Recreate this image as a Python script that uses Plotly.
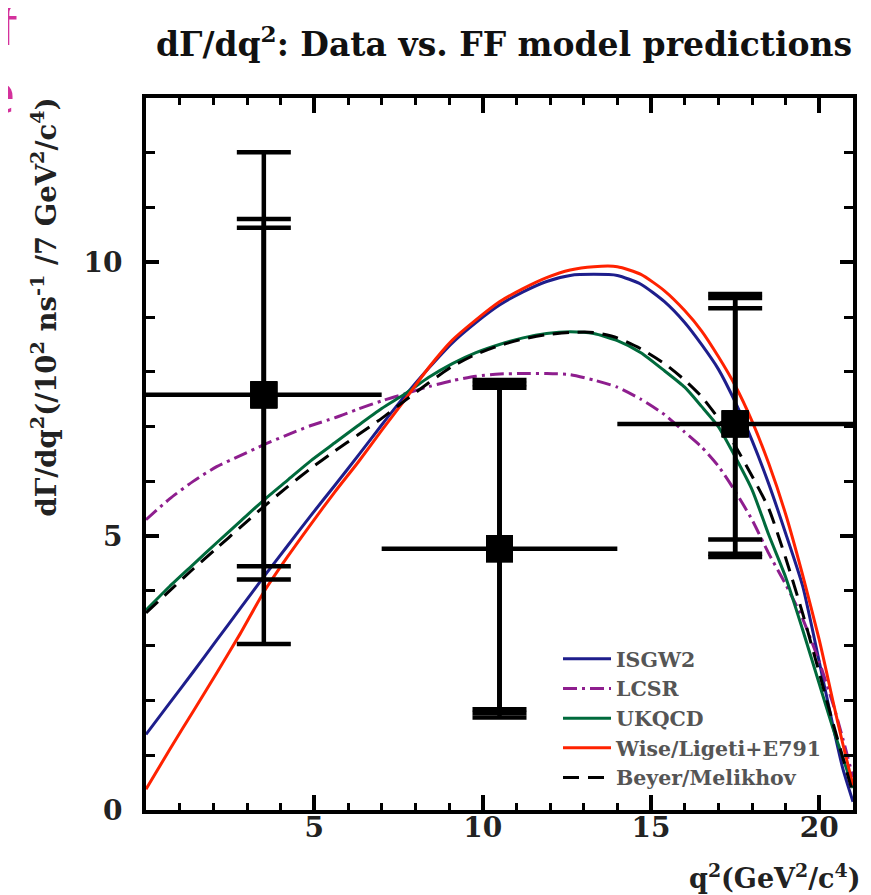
import plotly.graph_objects as go

# ---- model curves: dGamma/dq2 vs q2 ----
q2 = [0.0, 0.7, 1.4, 2.1, 2.8, 3.5, 4.2, 4.9, 5.6, 6.3, 7.0, 7.7, 8.4, 9.1, 9.8,
      10.5, 11.2, 11.9, 12.6, 13.3, 14.0, 14.7, 15.4, 16.0, 16.5, 17.0, 17.5,
      18.0, 18.5, 19.0, 19.5, 20.0, 20.4, 20.7, 21.0]
isgw2 = [1.38, 1.95, 2.52, 3.10, 3.68, 4.26, 4.82, 5.38, 5.92, 6.47, 7.03, 7.57, 8.07,
         8.53, 8.90, 9.22, 9.46, 9.65, 9.76, 9.78, 9.76, 9.60, 9.28, 8.90, 8.50,
         8.05, 7.45, 6.75, 5.95, 5.05, 4.10, 2.70, 1.55, 0.75, 0.15]
lcsr = [5.30, 5.68, 6.00, 6.27, 6.47, 6.67, 6.85, 7.02, 7.16, 7.32, 7.47, 7.60, 7.73,
        7.84, 7.92, 7.96, 7.97, 7.97, 7.95, 7.85, 7.72, 7.50, 7.22, 6.90, 6.63,
        6.28, 5.82, 5.30, 4.68, 4.12, 3.50, 2.70, 1.95, 1.30, 0.60]
ukqcd = [3.65, 4.08, 4.48, 4.88, 5.27, 5.66, 6.02, 6.38, 6.70, 7.02, 7.33, 7.60, 7.90,
         8.15, 8.35, 8.50, 8.62, 8.70, 8.73, 8.70, 8.57, 8.35, 8.02, 7.72, 7.37,
         7.00, 6.45, 5.85, 5.02, 4.25, 3.30, 2.30, 1.50, 0.95, 0.40]
wise = [0.38, 1.10, 1.80, 2.50, 3.22, 3.98, 4.62, 5.22, 5.80, 6.35, 6.93, 7.50, 8.08,
        8.58, 8.95, 9.28, 9.52, 9.72, 9.86, 9.92, 9.92, 9.78, 9.48, 9.12, 8.75,
        8.28, 7.75, 7.10, 6.32, 5.40, 4.30, 3.10, 2.00, 1.20, 0.45]
beyer = [3.60, 4.00, 4.40, 4.78, 5.16, 5.54, 5.90, 6.24, 6.55, 6.85, 7.15, 7.48, 7.80,
         8.10, 8.32, 8.48, 8.60, 8.68, 8.72, 8.72, 8.62, 8.42, 8.15, 7.85, 7.55,
         7.15, 6.65, 6.10, 5.50, 4.60, 3.60, 2.50, 1.60, 0.95, 0.30]

# ---- measured points ----
pt_q2 = [3.5, 10.5, 17.5]
pt_q2_halfbin = [3.5, 3.5, 3.5]
pt_rate = [7.58, 4.77, 7.05]
lim_outer_hi = [12.01, 7.85, 9.42]
lim_outer_lo = [3.03, 1.69, 4.62]
lim_mid_hi = [10.79, 7.78, 9.35]
lim_mid_lo = [4.21, 1.77, 4.68]
lim_inner_hi = [10.63, 7.71, 9.16]
lim_inner_lo = [4.45, 1.84, 4.94]

x_ticks = [5, 10, 15, 20]
y_ticks = [0, 5, 10]

SERIF = "DejaVu Serif"

fig = go.Figure()

models = [
    ("ISGW2", isgw2, "#1e1e8c", "solid"),
    ("LCSR", lcsr, "#8e1e8e", "14px,5px,3px,5px"),
    ("UKQCD", ukqcd, "#006a3c", "solid"),
    ("Wise/Ligeti+E791", wise, "#ff2200", "solid"),
    ("Beyer/Melikhov", beyer, "#000000", "16px,9px"),
]
for name, ys, color, dash in models:
    fig.add_trace(go.Scatter(
        x=q2, y=ys, mode="lines", name=name,
        line=dict(color=color, width=3, dash=dash, shape="spline", smoothing=0.6),
    ))

# horizontal bin bars
fig.add_trace(go.Scatter(
    x=pt_q2, y=pt_rate, mode="markers", showlegend=False,
    marker=dict(symbol="square", size=27, color="black"),
    error_x=dict(type="data", array=pt_q2_halfbin, width=0, thickness=4.5, color="black"),
))
for hi, lo in [(lim_outer_hi, lim_outer_lo), (lim_mid_hi, lim_mid_lo), (lim_inner_hi, lim_inner_lo)]:
    fig.add_trace(go.Scatter(
        x=pt_q2, y=pt_rate, mode="markers", showlegend=False,
        marker=dict(symbol="square", size=27, color="black"),
        error_y=dict(type="data", symmetric=False,
                     array=[h - y for h, y in zip(hi, pt_rate)],
                     arrayminus=[y - l for l, y in zip(lo, pt_rate)],
                     width=27, thickness=4.5, color="black"),
    ))

W, H = 863, 887
L, R, T, B = 138, 18, 90, 85
PW = W - L - R
PH = H - T - B
BOT = H - B


def px(xf):
    return (xf - L) / PW


def py(yf):
    return (BOT - yf) / PH


fig.update_layout(
    width=W, height=H,
    margin=dict(l=L, r=R, t=T, b=B),
    paper_bgcolor="white", plot_bgcolor="white",
    showlegend=True,
    legend=dict(
        x=px(550), y=py(631), xanchor="left", yanchor="top",
        font=dict(family=SERIF, size=20.5, color="#555555", weight="bold"),
        bgcolor="rgba(0,0,0,0)", itemwidth=48, tracegroupgap=0,
    ),
    title=dict(
        text="dΓ/dq<sup>2</sup>: Data vs. FF model predictions",
        x=496 / W, xref="container", xanchor="center",
        y=1 - 36 / H, yref="container", yanchor="middle",
        font=dict(family=SERIF, size=33, color="#111111", weight="bold"),
    ),
    xaxis=dict(
        range=[0, 21], showline=True, linewidth=4, linecolor="black", mirror="allticks",
        ticks="inside", ticklen=15, tickwidth=4, tickcolor="black",
        tickmode="array", tickvals=x_ticks, ticktext=[str(v) for v in x_ticks],
        minor=dict(tickmode="linear", tick0=0, dtick=1, ticks="inside", ticklen=7, tickwidth=3, tickcolor="black"),
        showgrid=False, zeroline=False,
        tickfont=dict(family=SERIF, size=28, color="#222222", weight="bold"),
        ticklabelstandoff=-11,
    ),
    yaxis=dict(
        range=[0, 13], showline=True, linewidth=4, linecolor="black", mirror="allticks",
        ticks="inside", ticklen=13, tickwidth=4, tickcolor="black",
        tickmode="array", tickvals=y_ticks, ticktext=[str(v) for v in y_ticks],
        minor=dict(tickmode="linear", tick0=0, dtick=1, ticks="inside", ticklen=9, tickwidth=3, tickcolor="black"),
        showgrid=False, zeroline=False,
        tickfont=dict(family=SERIF, size=28, color="#222222", weight="bold"),
        ticklabelstandoff=14,
    ),
    annotations=[
        dict(text="q<sup>2</sup>(GeV<sup>2</sup>/c<sup>4</sup>)", xref="paper", yref="paper",
             x=px(854), y=py(868), xanchor="right", yanchor="middle",
             showarrow=False, font=dict(family=SERIF, size=27, color="#222222", weight="bold")),
        dict(text="dΓ/dq<sup>2</sup>(/10<sup>2</sup> ns<sup>-1</sup> /7 GeV<sup>2</sup>/c<sup>4</sup>)",
             xref="paper", yref="paper", textangle=-90,
             x=px(37), y=py(88), xanchor="center", yanchor="top",
             showarrow=False, font=dict(family=SERIF, size=27.5, color="#222222", weight="bold")),
        dict(text="f", xref="paper", yref="paper", x=px(14), y=py(16),
             xanchor="right", yanchor="middle", showarrow=False,
             font=dict(family="Open Sans", size=54, color="#d4319c")),
        dict(text="e", xref="paper", yref="paper", x=px(9), y=py(84),
             xanchor="right", yanchor="middle", showarrow=False,
             font=dict(family="Open Sans", size=54, color="#d4319c")),
    ],
)

fig.write_html("out.html")
